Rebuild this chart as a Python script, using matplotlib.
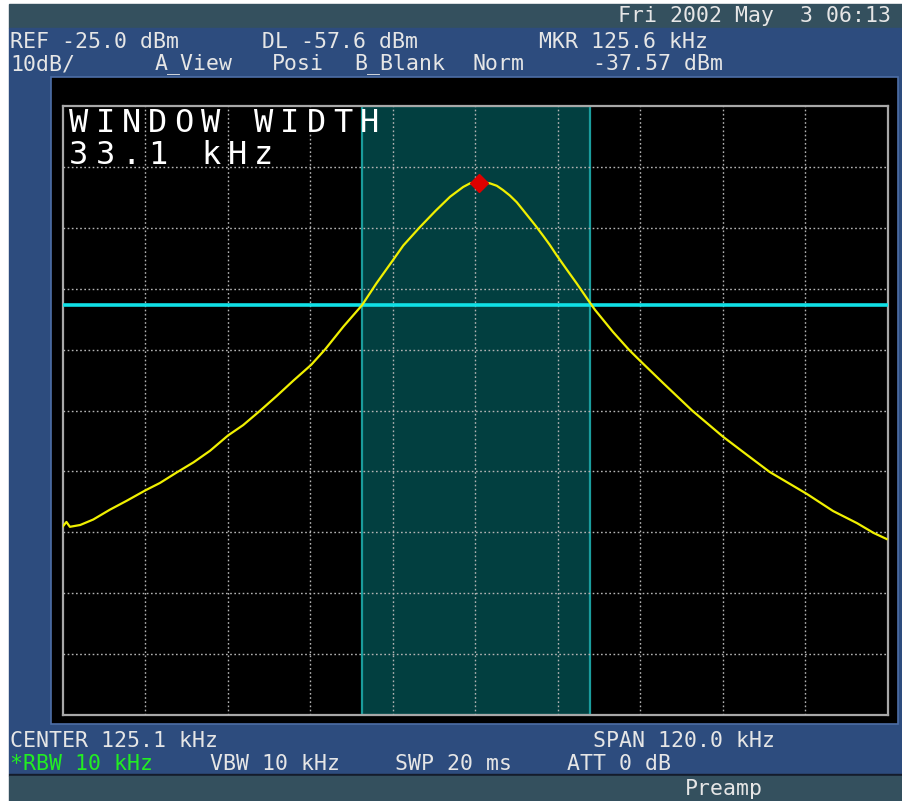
import matplotlib
matplotlib.use("Agg")
import matplotlib.pyplot as plt
from matplotlib.patches import Rectangle

plt.rcParams['font.family'] = ['DejaVu Sans Mono', 'DejaVu Sans']
plt.rcParams['font.size'] = 15.5

# trace (kHz, dBm)
freq_khz = [65.1, 65.6, 66.1, 67.6, 69.5, 71.9, 74.4, 77.1, 79.2, 81.6, 84.1, 86.5,
            89.1, 91.3, 93.8, 96.2, 98.6, 101.2, 103.2, 105.9, 108.6, 110.7, 113.1,
            114.6, 117.0, 119.3, 121.4, 123.3, 124.3, 125.4, 126.2, 127.2, 128.2,
            129.1, 130.1, 131.1, 132.1, 133.8, 135.0, 135.9, 136.9, 138.4, 139.8,
            141.5, 142.5, 145.1, 147.4, 149.1, 152.4, 156.6, 161.1, 164.6, 167.9,
            173.3, 177.1, 180.6, 183.0, 184.9]
level_dbm = [-94.0, -93.3, -94.1, -93.8, -92.9, -91.3, -89.8, -88.1, -86.9, -85.2, -83.5, -81.6,
             -79.1, -77.4, -75.0, -72.6, -70.1, -67.5, -65.0, -61.2, -57.7, -54.1, -50.3,
             -47.9, -44.9, -42.2, -39.9, -38.3, -37.7, -37.5, -37.5, -37.7, -38.1,
             -38.8, -39.7, -40.8, -42.2, -44.6, -46.4, -47.8, -49.5, -51.9, -54.1,
             -56.9, -58.5, -62.1, -65.0, -66.9, -70.5, -75.0, -79.3, -82.3, -85.1,
             -88.7, -91.5, -93.5, -95.1, -96.1]

center_khz = 125.1
span_khz = 120.0
ref_dbm = -25.0
db_per_div = 10
dl_dbm = -57.6
mkr_khz = 125.6
mkr_dbm = -37.57
window_khz = [108.65, 141.75]

W, H = 903, 801
fig = plt.figure(figsize=(W / 100, H / 100), dpi=100)
fig.patch.set_facecolor('white')

# screen background in pixel coordinates
bg = fig.add_axes([0, 0, 1, 1], zorder=0)
bg.set_xlim(0, W)
bg.set_ylim(H, 0)
bg.axis('off')
slate = '#34505e'
blue = '#2d4c7e'
bg.add_patch(Rectangle((9, 4), W - 9, 24, color=slate))
bg.add_patch(Rectangle((9, 28), W - 9, 746, color=blue))
bg.add_patch(Rectangle((9, 774), W - 9, 2, color='#141c2c'))
bg.add_patch(Rectangle((9, 776), W - 9, H - 776, color=slate))
bg.add_patch(Rectangle((51, 77), 847, 647, facecolor='black', edgecolor='#4d6ea6', lw=1.2))

txt = '#e6e6e6'
bg.text(618, 16, "Fri 2002 May  3 06:13", color=txt, va='center')
bg.text(10, 42, "REF -25.0 dBm", color=txt, va='center')
bg.text(262, 42, "DL -57.6 dBm", color=txt, va='center')
bg.text(539, 42, "MKR 125.6 kHz", color=txt, va='center')
bg.text(10, 64, "10dB/", color=txt, va='center')
bg.text(155, 64, "A_View", color=txt, va='center')
bg.text(272, 64, "Posi", color=txt, va='center')
bg.text(354, 64, "B_Blank", color=txt, va='center')
bg.text(473, 64, "Norm", color=txt, va='center')
bg.text(593, 64, "-37.57 dBm", color=txt, va='center')
bg.text(10, 741, "CENTER 125.1 kHz", color=txt, va='center')
bg.text(593, 741, "SPAN 120.0 kHz", color=txt, va='center')
bg.text(10, 764, "*RBW 10 kHz", color='#22ee22', va='center')
bg.text(210, 764, "VBW 10 kHz", color=txt, va='center')
bg.text(395, 764, "SWP 20 ms", color=txt, va='center')
bg.text(567, 764, "ATT 0 dB", color=txt, va='center')
bg.text(685, 789, "Preamp", color=txt, va='center')

# graticule
ax = fig.add_axes([63 / W, (H - 715) / H, 825 / W, 609 / H], zorder=1)
ax.set_facecolor('black')
x0 = center_khz - span_khz / 2
ax.set_xlim(x0, x0 + span_khz)
ax.set_ylim(ref_dbm - 10 * db_per_div, ref_dbm)
ax.set_xticks([x0 + i * span_khz / 10 for i in range(1, 10)])
ax.set_yticks([ref_dbm - i * db_per_div for i in range(1, 10)])
ax.tick_params(length=0, labelbottom=False, labelleft=False)
ax.grid(True, color='#b4b4b4', lw=1.0, linestyle=(0, (1.2, 1.8)))
ax.set_axisbelow(False)
for s in ax.spines.values():
    s.set_color('#a8a8a8')
    s.set_linewidth(1.6)

ax.axvspan(window_khz[0], window_khz[1], facecolor='#023f40', edgecolor='#1a9c9c', lw=1.6, zorder=1)
ax.axhline(dl_dbm, color='#10e0e6', lw=2.6, zorder=3)
ax.plot(freq_khz, level_dbm, color='#f0f000', lw=1.6, zorder=4)
ax.plot([mkr_khz], [mkr_dbm], 'D', color='#dd0000', markersize=9, zorder=5)

# window width label, wide character pitch like the screen font
for row, line in enumerate(["WINDOW WIDTH", "33.1 kHz"]):
    for i, ch in enumerate(line):
        fig.text((69 + i * 26.4) / W, 1 - (132 + row * 32) / H, ch, color='white',
                 fontsize=23, va='baseline', ha='left', zorder=10)

plt.savefig("out.png", dpi=100, facecolor=fig.get_facecolor())
